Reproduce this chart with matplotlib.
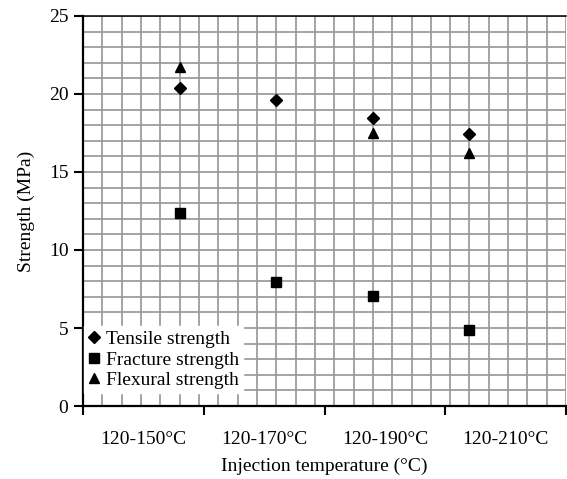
import matplotlib.pyplot as plt
import numpy as np

plt.rcParams['font.family'] = ['Liberation Serif', 'DejaVu Serif']

# --- data ---
categories = ["120-150°C", "120-170°C", "120-190°C", "120-210°C"]
x_pos = [5, 10, 15, 20]          # points sit on the scatter x scale 0..25
tensile = [20.4, 19.6, 18.45, 17.45]
fracture = [12.35, 7.95, 7.05, 4.9]
flexural = [21.7, None, 17.5, 16.2]

fig = plt.figure(figsize=(5.67, 4.79), dpi=100)
ax = fig.add_axes([0.1464, 0.1524, 0.852, 0.8142])

# grid every 1 unit both ways
ax.set_xlim(0, 25)
ax.set_ylim(0, 25)
for v in range(0, 26):
    ax.axvline(v, color="#999999", lw=1.25, zorder=1)
for h in range(0, 26):
    ax.axhline(h, color="#999999", lw=1.25, zorder=1)

fx = [x for x, v in zip(x_pos, flexural) if v is not None]
fy = [v for v in flexural if v is not None]

ax.plot(x_pos, tensile, "D", color="black", ms=6.5, ls="none",
        label="Tensile strength", zorder=3)
ax.plot(x_pos, fracture, "s", color="black", ms=7.2, ls="none",
        label="Fracture strength", zorder=3)
ax.plot(fx, fy, "^", color="black", ms=7.4, ls="none",
        label="Flexural strength", zorder=3)

# y axis
ax.set_yticks(np.arange(0, 26, 5))
ax.tick_params(axis="y", direction="out", length=6.5, width=1.5,
               labelsize=14, pad=4)

# x axis: boundaries as major ticks, category names on minor ticks
n = len(categories)
bounds = np.linspace(0, 25, n + 1)
centers = (bounds[:-1] + bounds[1:]) / 2
ax.set_xticks(bounds)
ax.set_xticklabels([""] * (n + 1))
ax.set_xticks(centers, minor=True)
ax.set_xticklabels(categories, minor=True)
ax.tick_params(axis="x", which="major", direction="out", length=6.5, width=1.5)
ax.tick_params(axis="x", which="minor", length=0, labelsize=14, pad=18)

for side in ("left", "bottom"):
    ax.spines[side].set_linewidth(1.6)
    ax.spines[side].set_color("black")
    ax.spines[side].set_zorder(4)
ax.spines["top"].set_linewidth(1.1)
ax.spines["top"].set_color("black")
ax.spines["right"].set_visible(False)

ax.set_xlabel("Injection temperature (°C)", fontsize=14, labelpad=7)
ax.set_ylabel("Strength (MPa)", fontsize=14, labelpad=10)

leg = ax.legend(loc="lower left", bbox_to_anchor=(0.003, 0.033),
                borderaxespad=0, frameon=True, fancybox=False,
                fontsize=14, handlelength=0.6, handletextpad=0.3,
                labelspacing=0.16, borderpad=0.2)
leg.get_frame().set_facecolor("white")
leg.get_frame().set_edgecolor("white")
leg.get_frame().set_alpha(1)
leg.set_zorder(5)

fig.savefig("out.png", dpi=100)
